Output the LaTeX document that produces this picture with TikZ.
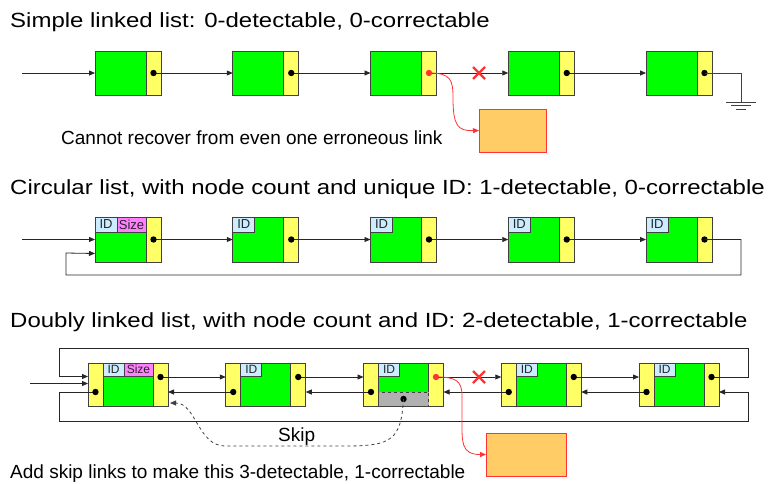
\documentclass[tikz,border=0pt]{standalone}
\usepackage{fontspec}
\setmainfont{Liberation Sans}
\newfontfamily\titlefont[FakeStretch=1.17]{Liberation Sans}
\usetikzlibrary{arrows.meta,calc}

\definecolor{nodegreen}{HTML}{00FF00}
\definecolor{ptryellow}{HTML}{FFFF66}
\definecolor{edgegrey}{HTML}{404040}
\definecolor{idblue}{HTML}{CCECFF}
\definecolor{sizepink}{HTML}{FF80FF}
\definecolor{badorange}{HTML}{FFCC66}
\definecolor{errred}{HTML}{FF3333}
\definecolor{skipgrey}{HTML}{B0B0B0}

\begin{document}
\begin{tikzpicture}[x=1pt,y=-1pt,
  cell/.style={draw=edgegrey, line width=0.8pt, inner sep=0pt, outer sep=0pt, anchor=north west},
  datacell/.style={cell, fill=nodegreen},
  ptrcell/.style={cell, fill=ptryellow},
  tag/.style={cell, fill=idblue, text=black!85},
  sizetag/.style={tag, fill=sizepink},
  badbox/.style={draw=errred, line width=0.9pt, fill=badorange, inner sep=0pt, outer sep=0pt, anchor=north west},
  link/.style={draw=black!85, line width=0.8pt, -{Triangle[length=6pt,width=5pt]}},
  errlink/.style={draw=errred, line width=0.8pt, -{Triangle[length=6pt,width=5pt]}},
  skiplink/.style={draw=black!75, line width=0.8pt, dashed, -{Triangle[length=6pt,width=5pt]}},
  loopline/.style={draw=black!75, line width=0.8pt},
  cutmark/.style={draw=errred, line width=2.2pt},
  heading/.style={anchor=base west, inner sep=0pt, font=\titlefont\fontsize{20.5}{24}\selectfont},
  note/.style={anchor=base west, inner sep=0pt, font=\fontsize{19}{22}\selectfont},
]
\useasboundingbox (0,0) rectangle (771,483);

% ---------------- Simple linked list ----------------
\node[heading] (t1) at (10,27.3) {Simple linked list: 0-detectable, 0-correctable};

\foreach \i in {0,...,4} {
  \node[datacell, minimum width=51pt, minimum height=44pt] (ag\i) at ({95+137.75*\i},51) {};
  \node[ptrcell, minimum width=15pt, minimum height=44pt] (ay\i) at (ag\i.north east) {};
}
\coordinate (ain) at ([xshift=-73pt]ag0.west);
\draw[link] (ain) -- (ag0.west);
\foreach \i/\j in {0/1,1/2,2/3,3/4}
  \draw[link] (ay\i.center) -- (ag\j.west);
\foreach \i in {0,1,3,4}
  \fill (ay\i.center) circle (3.2pt);
\fill[errred] (ay2.center) circle (3.2pt);

% ground terminator
\coordinate (agnd) at (741,102);
\draw[loopline] (ay4.center) -| (agnd);
\draw[loopline] (726,102) -- (756,102) (731,105.5) -- (751,105.5) (736,109) -- (746,109);

% broken link
\draw[cutmark] (473,67) -- (485,79) (473,79) -- (485,67);
\node[badbox, minimum width=67pt, minimum height=43pt] (abad) at (479,109) {};
\draw[errlink] (ay2.center) .. controls (451,73) and (453,80) .. (453,98)
  .. controls (453,126) and (458,131) .. (abad.west);
\node[note] (anote) at (61,144.3) {Cannot recover from even one erroneous link};

% ---------------- Circular list ----------------
\node[heading] (t2) at (10,194.8) {Circular list, with node count and unique ID: 1-detectable, 0-correctable};

\foreach \i in {0,...,4} {
  \node[datacell, minimum width=51pt, minimum height=45pt] (bg\i) at ({95+137.75*\i},217) {};
  \node[ptrcell, minimum width=15pt, minimum height=45pt] (by\i) at (bg\i.north east) {};
  \node[tag, minimum width=22pt, minimum height=15pt, font=\fontsize{13}{13}\selectfont] (bid\i) at (bg\i.north west) {ID};
}
\node[sizetag, minimum width=29pt, minimum height=15pt, font=\fontsize{13}{13}\selectfont] (bsz) at (bid0.north east) {Size};

\coordinate (bin) at ([xshift=-73pt]bg0.west);
\draw[link] (bin) -- (bg0.west);
\foreach \i/\j in {0/1,1/2,2/3,3/4}
  \draw[link] (by\i.center) -- (bg\j.west);
\foreach \i in {0,...,4}
  \fill (by\i.center) circle (3.2pt);
\coordinate (bret) at ([yshift=-14pt]bg0.west);
\draw[link] (by4.center) -| (741,275) -| (66,253) -- (bret);

% ---------------- Doubly linked list ----------------
\node[heading] (t3) at (10,327.6) {Doubly linked list, with node count and ID: 2-detectable, 1-correctable};

\foreach \i in {0,...,4} {
  \node[ptrcell, minimum width=15pt, minimum height=43pt] (cl\i) at ({88+137.75*\i},363) {};
  \node[datacell, minimum width=50pt, minimum height=43pt] (cg\i) at (cl\i.north east) {};
  \node[ptrcell, minimum width=15pt, minimum height=43pt] (cr\i) at (cg\i.north east) {};
  \node[tag, minimum width=21pt, minimum height=13pt, font=\fontsize{12}{12}\selectfont] (cid\i) at (cg\i.north west) {ID};
  \coordinate (cf\i) at ([yshift=7.5pt]cr\i.center);
  \coordinate (cb\i) at ([yshift=-7.5pt]cl\i.center);
}
\node[sizetag, minimum width=29pt, minimum height=13pt, font=\fontsize{12}{12}\selectfont] (csz) at (cid0.north east) {Size};

% skip field of the middle node
\node[cell, fill=skipgrey, dashed, minimum width=50pt, minimum height=14pt, anchor=south west] (cskip) at (cg2.south west) {};

\foreach \i/\j in {0/1,1/2,2/3,3/4} {
  \draw[link] (cf\i) -- (cl\j.west |- cf\i);
  \draw[link] (cb\j) -- (cr\i.east |- cb\j);
}

% wrap-around links
\coordinate (cloopin) at ([yshift=8pt]cl0.west);
\coordinate (cinput) at ([yshift=1pt]cl0.west);
\coordinate (cinstart) at ([xshift=-58pt]cinput);
\draw[link] (cinstart) -- (cinput);
\draw[link] (cf4) -| (748,348) -| (59,376.5) -- (cloopin);
\draw[link] (cb0) -| (59,421) -| (748,392) -- (cr4.east |- cb0);

\foreach \i in {0,1,3,4}
  \fill (cf\i) circle (3.2pt);
\fill[errred] (cf2) circle (3.2pt);
\foreach \i in {0,...,4}
  \fill (cb\i) circle (3.2pt);
\fill (cskip.center) circle (3.2pt);

% broken forward link
\draw[cutmark] (473,371) -- (485,383) (473,383) -- (485,371);
\node[badbox, minimum width=80pt, minimum height=43pt] (cbad) at (486,433) {};
\draw[errlink] (cf2) .. controls (455,377) and (462,380) .. (462,396) -- (462,420)
  .. controls (462,442) and (461,454.5) .. (cbad.west);

% skip link
\coordinate (cskipend) at ([shift={(2pt,-18.5pt)}]cr0.east);
\draw[skiplink] (cskip.center) .. controls (401,440) and (392,446) .. (345,446) -- (225,446)
  .. controls (198,446) and (196,403) .. (cskipend);
\node[note] (cskiplabel) at (278,441.5) {Skip};

\node[note] (cnote) at (10,478.3) {Add skip links to make this 3-detectable, 1-correctable};
\end{tikzpicture}
\end{document}
